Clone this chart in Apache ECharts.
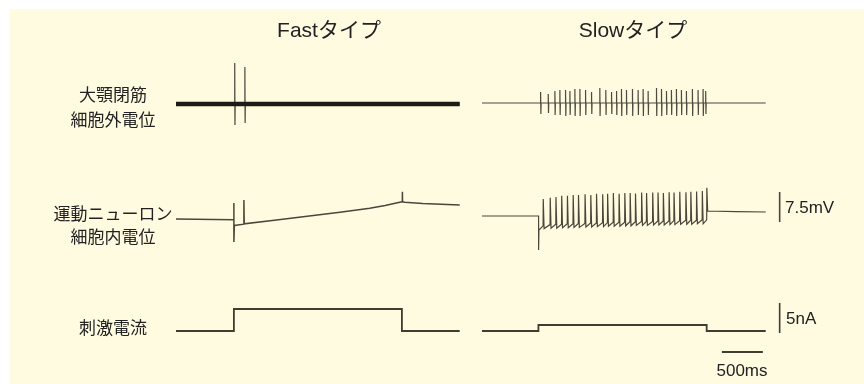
<!DOCTYPE html>
<html><head><meta charset="utf-8">
<script src="https://cdn.jsdelivr.net/npm/echarts@6/dist/echarts.min.js"></script>
<style>html,body{margin:0;padding:0;background:#fff}#c{width:864px;height:384px}</style>
</head><body><div id="c"></div>
<script>
// ---------------- data (time in ms, potentials in mV relative to rest, current in nA) ----------------
const columnTitles = ['Fastタイプ', 'Slowタイプ'];
const rowLabels = [['大顎閉筋', '細胞外電位'], ['運動ニューロン', '細胞内電位'], ['刺激電流']];
const traceDuration = 3460;

// Jaw-closing muscle extracellular potential (arbitrary units)
const fastExtraSpikeTimes = [716, 840];
const fastExtraSpikeTops = [41, 37];
const fastExtraSpikeBottoms = [-21, -19];
const slowExtraBaseline = 1;
const slowExtraSpikeTimes = [715, 808, 889, 950, 1019, 1072, 1133, 1194, 1263, 1336, 1437, 1510, 1580, 1641, 1701, 1762, 1835, 1904, 1965, 2026, 2128, 2189, 2250, 2310, 2371, 2432, 2493, 2566, 2635, 2696, 2728];
const slowExtraSpikeTops = [12, 10, 13, 14, 14, 13, 15, 15, 14, 12, 16, 14, 12, 13, 15, 14, 15, 14, 15, 13, 16, 15, 13, 14, 15, 14, 13, 15, 14, 15, 13];
const slowExtraSpikeBottoms = [-10, -9, -11, -11, -12, -11, -12, -12, -11, -10, -12, -11, -10, -11, -12, -11, -12, -11, -12, -11, -12, -12, -11, -11, -12, -11, -11, -12, -11, -12, -10];

// Motor neuron intracellular potential
const fastMNTrace = [[0, 0], [706, -0.2], [706, 4], [706, -5.75], [712, -1.6], [828, -1.3], [828, 4.75], [832, -1.2],
  [1200, -0.3], [1600, 0.7], [2000, 1.7], [2363, 2.7], [2550, 3.4], [2728, 4.2], [2760, 4.3], [2761, 6.8], [2763, 4.3], [2790, 4.2],
  [3008, 3.9], [3460, 3.5]];
const slowMNRest = 0.75;
const slowMNOnset = 690;
const slowMNOnsetDip = -7.75;
const slowMNOnsetLevel = -2.75;
const slowMNSpikeTimes = [745, 830, 900, 970, 1040, 1110, 1175, 1255, 1325, 1395, 1470, 1530, 1600, 1670, 1740, 1805, 1870, 1945, 2005, 2080, 2145, 2210, 2280, 2340, 2410, 2485, 2545, 2615, 2685, 2740];
const slowMNSpikePeaks = [5.0, 5.3, 5.5, 5.8, 5.8, 6.0, 6.0, 6.2, 6.0, 6.3, 6.2, 6.3, 6.5, 6.3, 6.5, 6.5, 6.4, 6.6, 6.5, 6.6, 6.6, 6.5, 6.7, 6.6, 6.8, 6.7, 6.8, 6.9, 7.0, 7.8];
const slowMNThresholds = [-1.7, -1.4, -1.3, -1.3, -1.2, -1.2, -1.1, -1.1, -1.0, -1.0, -0.9, -0.9, -0.8, -0.8, -0.8, -0.7, -0.7, -0.6, -0.6, -0.6, -0.5, -0.5, -0.5, -0.4, -0.4, -0.3, -0.3, -0.3, -0.2, -0.2];
const slowMNTroughs = [-2.4, -2.3, -2.3, -2.2, -2.2, -2.1, -2.1, -2.0, -2.0, -1.9, -1.9, -1.8, -1.8, -1.8, -1.7, -1.7, -1.6, -1.6, -1.6, -1.5, -1.5, -1.5, -1.4, -1.4, -1.3, -1.3, -1.3, -1.2, -1.2, 2.0];
const slowMNAfter = [[3100, 1.85], [3460, 1.75]];

// Stimulus current
const fastStimOn = 706, fastStimOff = 2755, fastStimAmplitude = 3.67;
const slowStimOn = 688, slowStimOff = 2740, slowStimAmplitude = 1.0;

// Scale bars
const scaleBarVoltage = 7.5;   // mV
const scaleBarCurrent = 5;     // nA
const scaleBarTime = 500;      // ms
const scaleLabels = ['7.5mV', '5nA', '500ms'];

// ---------------- build ----------------
const BG = '#FFFBE1';
const INK = '#1c1b16';
const TRACE = '#4a4639';
const STIM = '#3f3d30';
const LATIN = "'Liberation Sans', Arial, sans-serif";
const CJK = "'Liberation Sans', 'Noto Sans CJK JP', sans-serif";

function spikeTrain(base, times, tops, bottoms, end) {
  const d = [[0, base]];
  times.forEach((t, i) => { d.push([t, base], [t, tops[i]], [t + 3, bottoms[i]], [t + 6, base]); });
  d.push([end, base]);
  return d;
}
function stimTrace(on, off, amp) {
  return [[0, 0], [on, 0], [on, amp], [off, amp], [off, 0], [traceDuration, 0]];
}
function slowMNTrace() {
  const d = [[0, slowMNRest], [slowMNOnset, slowMNRest], [slowMNOnset, slowMNOnsetDip], [slowMNOnset + 4, slowMNOnsetLevel]];
  slowMNSpikeTimes.forEach((t, i) => {
    d.push([t, slowMNThresholds[i]], [t + 2, slowMNSpikePeaks[i]], [t + 12, slowMNTroughs[i]]);
  });
  slowMNAfter.forEach(p => d.push(p));
  return d;
}

const msPerPx = 500 / 41;
const fastW = traceDuration / msPerPx;
const slowMax = 4000;
const slowW = slowMax / msPerPx;
const rows = [
  { top: 54, height: 100, min: -50, max: 50 },
  { top: 179, height: 80, min: -10, max: 10 },
  { top: 292, height: 69, min: -5, max: 6.5 }
];
const grid = [], xAxis = [], yAxis = [];
rows.forEach((r, ri) => {
  [[176, fastW, traceDuration], [482, slowW, slowMax]].forEach(([left, w, xmax], ci) => {
    grid.push({ left: left, top: r.top, width: w, height: r.height });
    xAxis.push({ type: 'value', gridIndex: ri * 2 + ci, min: 0, max: xmax, show: false });
    yAxis.push({ type: 'value', gridIndex: ri * 2 + ci, min: r.min, max: r.max, show: false });
  });
});

function line(idx, data, color, width, z, opacity) {
  return { type: 'line', xAxisIndex: idx, yAxisIndex: idx, data: data, showSymbol: false, symbol: 'none',
    lineStyle: { color: color, width: width, cap: 'butt', join: 'miter', opacity: opacity == null ? 1 : opacity }, z: z || 2, silent: true, animation: false };
}

const scaleX = 3630;
const series = [
  line(0, [[0, 0], [traceDuration, 0]], INK, 4.5, 3),
  line(0, spikeTrain(0, fastExtraSpikeTimes, fastExtraSpikeTops, fastExtraSpikeBottoms, traceDuration), '#3a3830', 1.3, 2, 0.85),
  line(1, spikeTrain(slowExtraBaseline, slowExtraSpikeTimes, slowExtraSpikeTops, slowExtraSpikeBottoms, traceDuration), '#2e2c24', 1.2, 2, 0.85),
  line(2, fastMNTrace, TRACE, 1.5),
  line(3, slowMNTrace(), TRACE, 1.2),
  line(3, [[scaleX, -0.75], [scaleX, -0.75 + scaleBarVoltage]], TRACE, 1.6),
  line(4, stimTrace(fastStimOn, fastStimOff, fastStimAmplitude), STIM, 1.8),
  line(5, stimTrace(slowStimOn, slowStimOff, slowStimAmplitude), STIM, 1.8),
  line(5, [[scaleX, -0.35], [scaleX, -0.35 + scaleBarCurrent]], STIM, 1.6),
  line(5, [[2925, -3.5], [2925 + scaleBarTime, -3.5]], STIM, 1.8)
];

const texts = [];
[[329, columnTitles[0]], [633, columnTitles[1]]].forEach(([x, t]) => texts.push({ type: 'text', x: x, y: 31,
  style: { text: t, font: "21px " + CJK, fill: '#222', textAlign: 'center', textVerticalAlign: 'middle' } }));
[[95, 120], [214, 237], [328]].forEach((ys, ri) => ys.forEach((y, k) => texts.push({ type: 'text', x: 113, y: y,
  style: { text: rowLabels[ri][k], font: "17px 'Noto Sans CJK JP', sans-serif", fill: '#222', textAlign: 'center', textVerticalAlign: 'middle' } })));
[[785, 208, 'left'], [786, 319, 'left'], [742, 371, 'center']].forEach(([x, y, a], i) => texts.push({ type: 'text', x: x, y: y,
  style: { text: scaleLabels[i], font: "17px " + LATIN, fill: '#222', textAlign: a, textVerticalAlign: 'middle' } }));

const chart = echarts.init(document.getElementById('c'), null, { renderer: 'canvas' });
chart.setOption({
  backgroundColor: '#ffffff',
  animation: false,
  grid: grid, xAxis: xAxis, yAxis: yAxis, series: series,
  graphic: [{ type: 'rect', shape: { x: 10, y: 9, width: 854, height: 375 }, style: { fill: BG }, z: -10, silent: true }].concat(texts)
});
</script></body></html>
